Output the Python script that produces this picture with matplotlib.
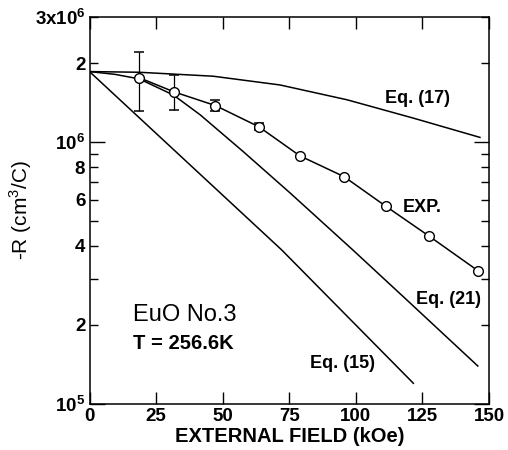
import numpy as np
import matplotlib
matplotlib.use('Agg')
import matplotlib.pyplot as plt

plt.rcParams['font.family'] = ['Liberation Sans', 'DejaVu Sans']
plt.rcParams['mathtext.fontset'] = 'custom'
plt.rcParams['mathtext.rm'] = 'Liberation Sans'
plt.rcParams['mathtext.bf'] = 'Liberation Sans:bold'

# measured Hall coefficient (open circles)
exp_field = [18.7, 31.6, 47.3, 63.6, 79.0, 95.6, 111.2, 127.4, 145.8]
exp_R = [1.758e6, 1.554e6, 1.376e6, 1.142e6, 8.84e5, 7.36e5, 5.68e5, 4.37e5, 3.22e5]

# error bars on the first four points
err_hi = [2.21e6, 1.80e6, 1.444e6, 1.178e6]
err_lo = [1.311e6, 1.323e6, 1.311e6, 1.110e6]

# theory curves
eq17_field = [0, 18.6, 46.4, 71.5, 96.7, 121.5, 146.6]
eq17_R = [1.856e6, 1.845e6, 1.782e6, 1.650e6, 1.448e6, 1.233e6, 1.040e6]

eq21_field = [0, 9.6, 18.7, 31.5, 41.5, 57.6, 75.3, 98.9, 119.1, 145.8]
eq21_R = [1.856e6, 1.811e6, 1.740e6, 1.510e6, 1.270e6, 9.20e5, 6.38e5, 3.86e5, 2.49e5, 1.391e5]

eq15_field = [0, 72.2, 121.6]
eq15_R = [1.856e6, 3.86e5, 1.195e5]

x_ticks = [0, 25, 50, 75, 100, 125, 150]
y_major = [1e5, 1e6]
y_major_labels = [r'$\mathbf{10^5}$', r'$\mathbf{10^6}$']
y_minor = [2e5, 3e5, 4e5, 5e5, 6e5, 7e5, 8e5, 9e5, 2e6, 3e6]
y_minor_labels = ['2', '', '4', '', '6', '', '8', '', '2', r'$\mathbf{3x10^6}$']


def main():
	fig = plt.figure(figsize=(5.08, 4.5), dpi=100)
	ax = fig.add_axes([0.1762, 0.1033, 0.7864, 0.8589])

	lw = 1.1
	ax.plot(eq17_field, eq17_R, color='black', linewidth=lw)
	ax.plot(eq21_field, eq21_R, color='black', linewidth=lw)
	ax.plot(eq15_field, eq15_R, color='black', linewidth=lw)

	n = len(err_hi)
	yerr = [np.array(exp_R[:n]) - np.array(err_lo), np.array(err_hi) - np.array(exp_R[:n])]
	ax.errorbar(exp_field[:n], exp_R[:n], yerr=yerr, fmt='none', ecolor='black',
				elinewidth=0.9, capsize=3.8, capthick=1.1, zorder=3)
	ax.plot(exp_field, exp_R, color='black', linewidth=lw, marker='o', markersize=7,
			markerfacecolor='white', markeredgecolor='black', markeredgewidth=1.0, zorder=4)

	ax.set_yscale('log')
	ax.set_xlim(0, 150)
	ax.set_ylim(1e5, 3e6)

	tick_fs = 13.5
	ax.set_xticks(x_ticks)
	ax.set_xticklabels([str(t) for t in x_ticks], fontsize=tick_fs, fontweight='bold')
	ax.set_yticks(y_major)
	ax.set_yticklabels(y_major_labels, fontsize=tick_fs, fontweight='bold')
	ax.set_yticks(y_minor, minor=True)
	ax.set_yticklabels(y_minor_labels, minor=True, fontsize=tick_fs, fontweight='bold')

	ax.tick_params(axis='x', which='major', direction='in', top=True, length=8.5, width=1.0, pad=3)
	ax.tick_params(axis='y', which='major', direction='in', right=True, length=11, width=1.0, pad=3)
	ax.tick_params(axis='y', which='minor', direction='in', right=True, length=6, width=1.0, pad=3)
	for s in ax.spines.values():
		s.set_linewidth(1.1)

	ax.set_xlabel('EXTERNAL FIELD (kOe)', fontsize=14.5, fontweight='bold', labelpad=2)
	ax.set_ylabel(r'-R (cm$^3$/C)', fontsize=15)
	ax.yaxis.set_label_coords(-0.14, 0.5)

	ax.text(111, 1.464e6, 'Eq. (17)', fontsize=13, fontweight='bold', va='center')
	ax.text(117.8, 5.63e5, 'EXP.', fontsize=13, fontweight='bold', va='center')
	ax.text(122.5, 2.49e5, 'Eq. (21)', fontsize=13, fontweight='bold', va='center')
	ax.text(82.8, 1.428e5, 'Eq. (15)', fontsize=13, fontweight='bold', va='center')
	ax.text(16.2, 2.17e5, 'EuO No.3', fontsize=17, va='center')
	ax.text(16.4, 1.696e5, 'T = 256.6K', fontsize=14.5, fontweight='bold', va='center')

	fig.savefig('out.png', dpi=100)


if __name__ == '__main__':
	main()
